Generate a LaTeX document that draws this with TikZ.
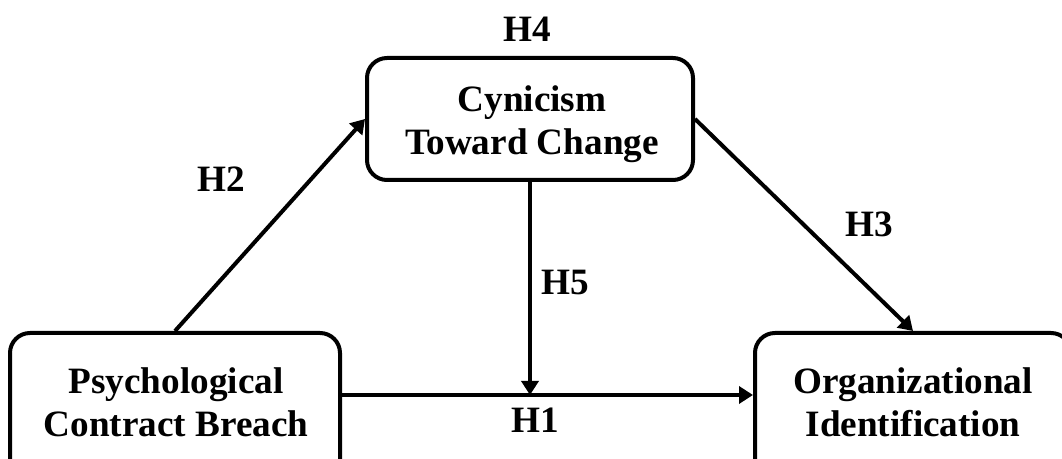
\documentclass[tikz,border=0pt]{standalone}
\usepackage{fontspec}
\setmainfont{Liberation Serif}
\usetikzlibrary{arrows.meta}
\begin{document}
\begin{tikzpicture}[x=0.5pt,y=-0.5pt,
  box/.style={draw, line width=2pt, rounded corners=10pt, inner sep=0pt, fill=white},
  txt/.style={font=\fontsize{18.6pt}{21.5pt}\selectfont\bfseries, align=center, inner sep=0pt},
  lab/.style={font=\fontsize{18.6pt}{21.5pt}\selectfont\bfseries, inner sep=0pt},
  arr/.style={line width=2pt, -{Triangle[length=7pt,width=8.5pt]}}]
\useasboundingbox (0,0) rectangle (1062,459);
\clip (0,0) rectangle (1062,459);
% boxes
\node[box, minimum width=165pt, minimum height=78pt] (pcb) at (175,411) {};
\node[box, minimum width=158pt, minimum height=78pt] (oi) at (913,411) {};
\node[box, minimum width=163pt, minimum height=61pt] (ctc) at (530,119) {};
% box texts
\node[txt] (pcbt) at (176,402) {Psychological\\Contract Breach};
\node[txt] (oit) at (913,402) {Organizational\\Identification};
\node[txt] (ctct) at (532,124) {Cynicism\\Toward Change};
% helper coordinates
\coordinate (h1) at (0,395);
\coordinate (h3end) at (913,331);
% connectors
\draw[arr] (pcb.north) -- (ctc.west);
\draw[arr] (ctc.east) -- (h3end);
\draw[arr] (pcb.east |- h1) -- (oi.west |- h1);
\draw[arr] (ctc.south) -- (ctc.south |- h1);
% labels
\node[lab] (H4) at (527,29) {H4};
\node[lab] (H2) at (221,179) {H2};
\node[lab] (H3) at (869,224) {H3};
\node[lab] (H5) at (565,283) {H5};
\node[lab] (H1) at (535,420) {H1};
\end{tikzpicture}
\end{document}
